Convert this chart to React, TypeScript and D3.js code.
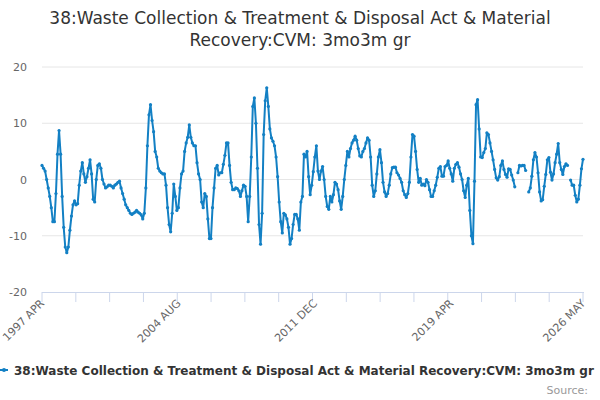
import React from 'react';
import * as d3 from 'd3';

const startYear = 1997;
const startMonth = 3; // April (0-based)

// 3mo3m growth, monthly from 1997 APR to 2026 MAY (null = missing)
const values: (number | null)[] = [
  2.5, 2.0, 1.5, 0, -1.5, -3, -5, -7.5, -7.5, -2.5, 4.5, 8.7, 4.5, -3, -8.5, -12, -13, -12, -9, -6.5,
  -4.5, -3.8, -4.5, -4.3, -1, 1.5, 3, 1, -0.5, 0.5, 2, 3.5, 1, -3.5, -4, 0, 2.5, 2.8, 2, 0,
  -0.8, -1.5, -1.3, -1, -1, -1.2, -1.5, -1, -0.8, -0.5, -0.3, -1.5, -2.5, -3.5, -4.5, -5, -5.5, -6, -6.2, -6,
  -5.8, -5.5, -5.8, -6, -6.3, -7, -6, -1.5, 6, 11.5, 13.3, 10.5, 8.5, 5, 4, 2, 1.5, 1.2, 1, 1,
  -1, -5, -8, -9.3, -6, -0.8, -3, -5.5, -5, -1.5, 1, 1.5, 5, 6.5, 7.5, 9.7, 7.5, 6.5, 6, 6,
  3, 1, 0, -4, -5, -2.5, -3, -7, -10.5, -10.5, -5, -1.5, 2, 2.5, 0.8, 1.2, 1.2, 2.7, 4.3, 6.5,
  6.5, 2.5, -0.5, -1.8, -1.8, -1.5, -1.6, -2, -3, -2, -1, -1.2, -3, -7.5, -3, 4, 13, 14.5, 10, 2,
  -8, -11.5, -6, 8, 14, 16.3, 13, 9, 7.4, 6.8, 6, 4, 0.5, -4, -7.5, -9.5, -6, -6.3, -7, -8.5,
  -11.5, -10.5, -8, -6.2, -6.2, -7, -9, -4, -3, 4.5, 4, 5, 0.5, -2.7, -1, 1.4, 4, 6, 1.5, 0,
  1.5, 2.3, 0, -3, -4.8, -5.3, -3, -4, -2.7, -0.5, -0.8, -1.8, -3.8, -5.3, -3, 0, 2.5, 5, 4, 5.5,
  6.5, 7, 7.7, 7, 5.5, 4.2, 4, 5, 5.5, 6.5, 7.4, 7, 4, -1, -3, -2, 1, 4, 5.3, 3,
  -0.5, -2.2, -3, -2.5, -1, 1, 2.1, 2.2, 2.2, 1.2, 0.8, 0.2, -0.5, -2, -2.7, -3.2, -2.5, -0.5, 4, 8,
  7.7, 5, 1.8, -0.5, 0.2, -1, -0.8, -1.1, 0, -0.5, -1.8, -3, -3, -2, -1, 0.4, 2, 2.3, 0.6, 0.6,
  2.3, 2.5, 3.3, 2, 1, -0.3, 2, 2.7, 3, 2.2, 1, 0, -2, -3.2, -1, 0.2, -5.5, -10, -11.4, -0.3,
  13.3, 14.2, 9, 4, 3.9, 4.8, 5.5, 8.3, 8, 6.5, 5, 3.5, 1.8, 0.3, -0.1, 0.5, 2.5, 3.3, 1.8, 0.9,
  0.4, 1.9, 1.8, 0.8, -0.1, -1.3, null, 1.2, 2.5, 2.4, 2.5, 2.5, 1.6, null, -2.2, -1.5, 0.6, 3.5, 4.8, 4,
  1.2, -2.2, -3.8, -3.6, -1.2, 0.9, 3.5, 3.9, 1.3, -0.1, 1, 3, 4.5, 6.4, 3, 1.8, 0.9, 2.3, 2.8, 2.5,
  null, -0.1, -1, -1, -2.8, -4, -3.5, -1, 1.9, 3.6,
];

const yTicks = [20, 10, 0, -10, -20];
const labelIndexes = [0, 88, 176, 264, 349];
const monthNames = ['JAN', 'FEB', 'MAR', 'APR', 'MAY', 'JUN', 'JUL', 'AUG', 'SEP', 'OCT', 'NOV', 'DEC'];

const titleLines = ['38:Waste Collection & Treatment & Disposal Act & Material', 'Recovery:CVM: 3mo3m gr'];
const legendText = '38:Waste Collection & Treatment & Disposal Act & Material Recovery:CVM: 3mo3m gr';

const W = 600;
const H = 400;
const left = 42;
const right = 583;
const top = 67;
const bottom = 292;
const color = '#1380c4';
const font = 'DejaVu Sans, sans-serif';

function monthLabel(i: number) {
  const m = startMonth + i;
  return `${startYear + Math.floor(m / 12)} ${monthNames[m % 12]}`;
}

export default function App() {
  const n = values.length;
  const x = d3.scaleLinear().domain([0, n - 1]).range([left, right]);
  const y = d3.scaleLinear().domain([-20, 20]).range([bottom, top]);
  const pts = values.map((v, i) => ({ i, v }));
  const line = d3
    .line<{ i: number; v: number | null }>()
    .defined((d) => d.v !== null)
    .x((d) => x(d.i))
    .y((d) => y(d.v as number));
  const tickIdx = d3.range(17).map((k) => ((n - 1) * k) / 16);

  return (
    <svg width={W} height={H} style={{ position: 'absolute', left: 0, top: 0, fontFamily: font }}>
      <rect width={W} height={H} fill="#fff" />
      {titleLines.map((t, k) => (
        <text key={k} x={W / 2} y={24 + k * 22} textAnchor="middle" fontSize={17} fill="#333">
          {t}
        </text>
      ))}
      {yTicks.map((t) => (
        <g key={t}>
          {t !== -20 && <line x1={left} x2={right} y1={y(t)} y2={y(t)} stroke="#e6e6e6" />}
          <text x={27} y={y(t) + 4} textAnchor="end" fontSize={11} fill="#666">
            {t}
          </text>
        </g>
      ))}
      <line x1={left} x2={right + 1} y1={bottom + 0.5} y2={bottom + 0.5} stroke="#ccd6eb" />
      {tickIdx.map((t, k) => (
        <line key={k} x1={x(t)} x2={x(t)} y1={bottom} y2={bottom + 10} stroke="#ccd6eb" />
      ))}
      {labelIndexes.map((i) => (
        <text
          key={i}
          transform={`translate(${x(i) + 3},${bottom + 12}) rotate(-45)`}
          textAnchor="end"
          fontSize={11}
          fill="#666"
        >
          {monthLabel(i)}
        </text>
      ))}
      <path d={line(pts) ?? ''} fill="none" stroke={color} strokeWidth={2} strokeLinejoin="round" />
      {pts
        .filter((d) => d.v !== null)
        .map((d) => (
          <circle key={d.i} cx={x(d.i)} cy={y(d.v as number)} r={1.6} fill={color} />
        ))}
      <line x1={0} x2={8} y1={370} y2={370} stroke={color} strokeWidth={2} />
      <circle cx={4} cy={370} r={2} fill={color} />
      <text x={14} y={374.5} fontSize={12} fontWeight="bold" fill="#333">
        {legendText}
      </text>
      <text x={588} y={394} textAnchor="end" fontSize={11} fill="#999">
        Source:
      </text>
    </svg>
  );
}
